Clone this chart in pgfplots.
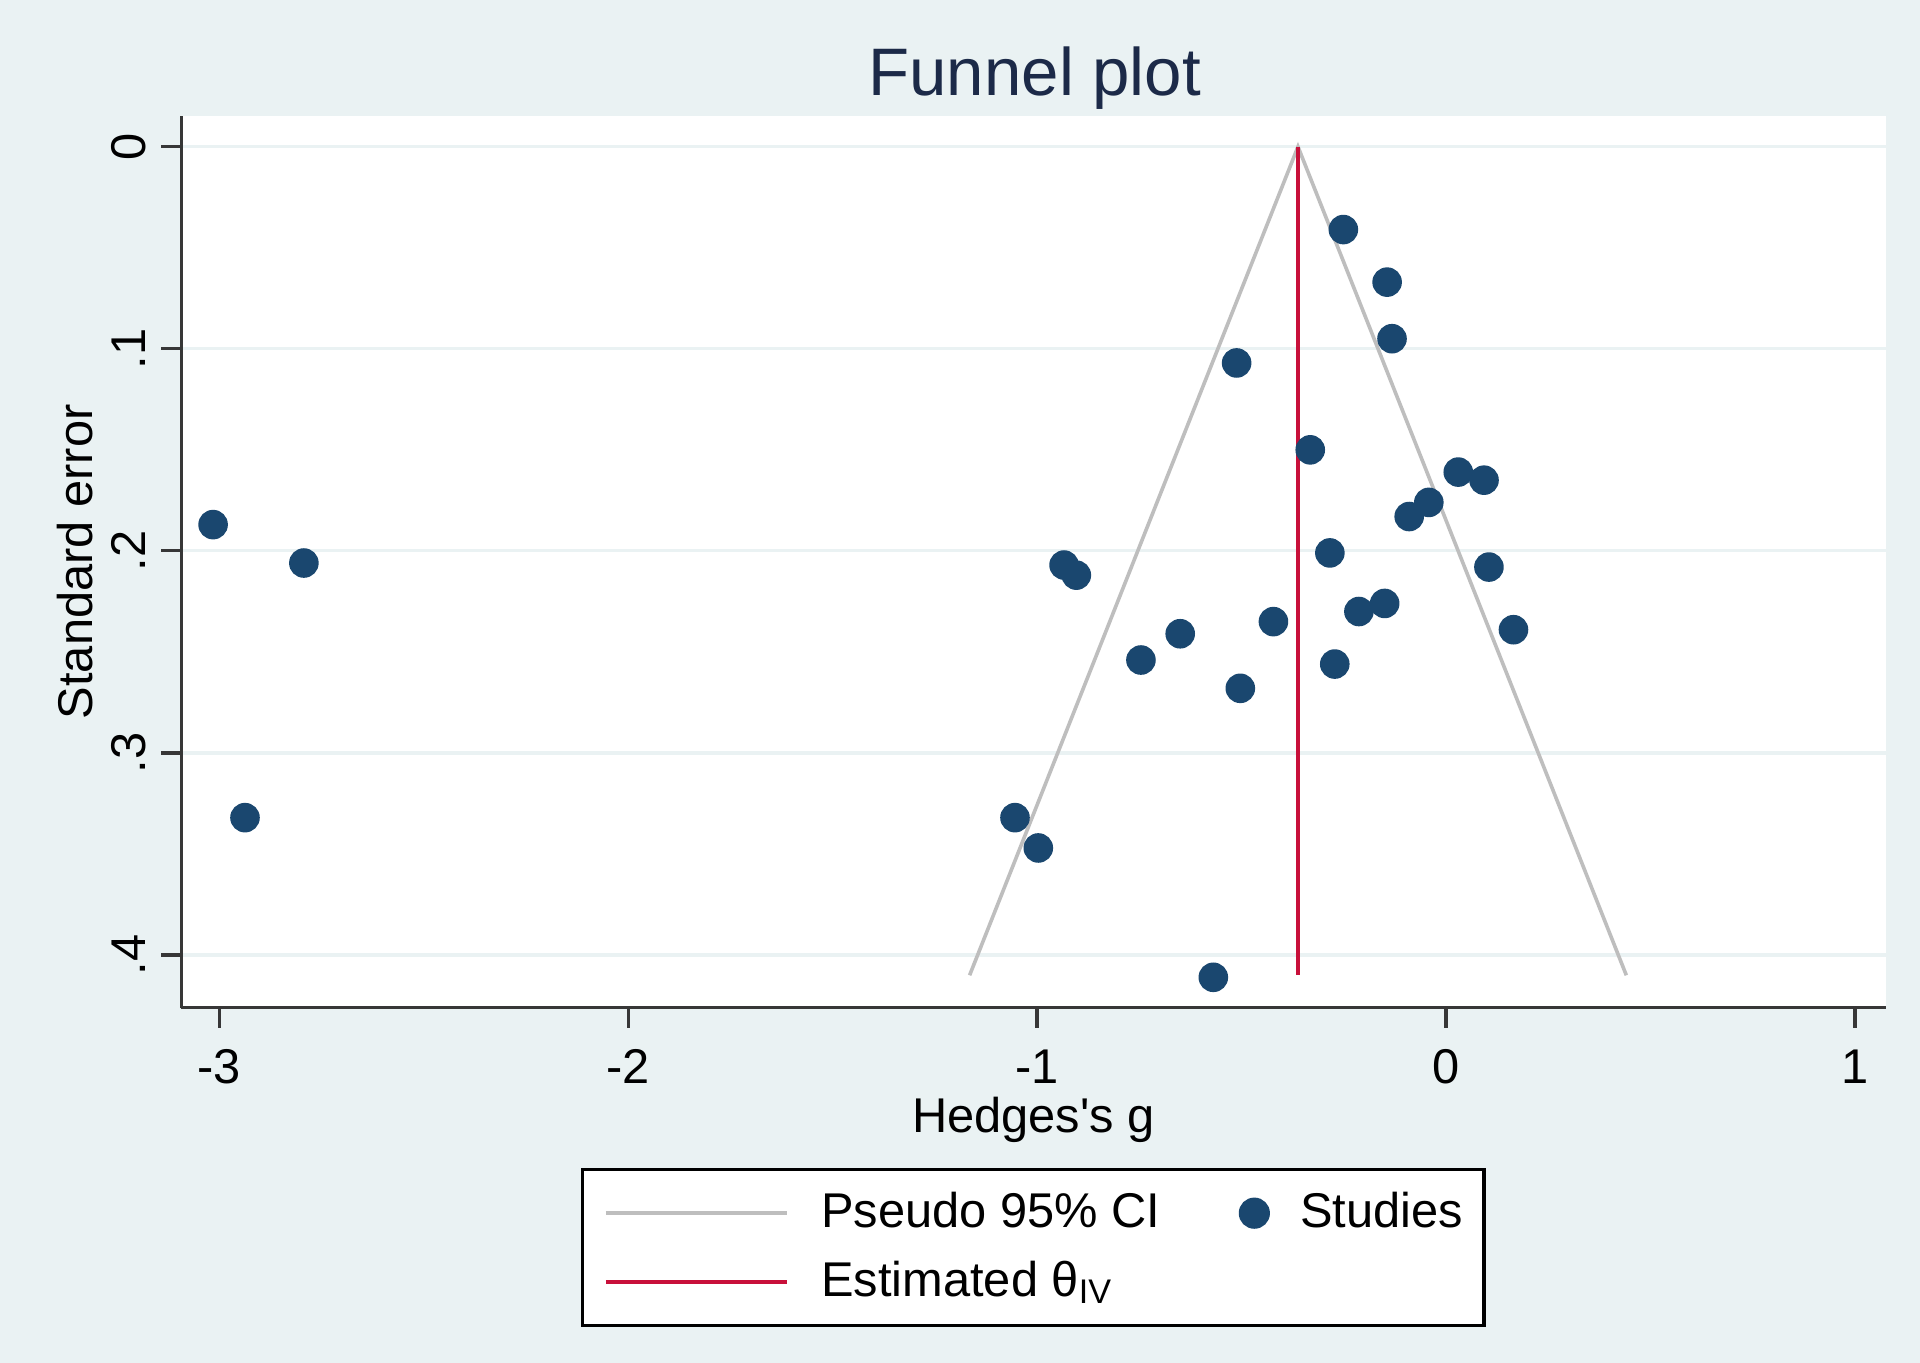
\documentclass[border=0pt]{standalone}
\usepackage{fontspec}
\setmainfont{Liberation Sans}[Ligatures=TeXOff]
\usepackage{pgfplots}
\pgfplotsset{compat=1.18}
\pgfplotsset{longleg/.style={legend image code/.code={\draw[##1] (0pt,0pt) -- (45.3pt,0pt);}}}
\definecolor{bg}{RGB}{234,242,243}
\definecolor{navy}{RGB}{26,71,111}
\definecolor{funnel}{RGB}{190,190,190}
\definecolor{estred}{RGB}{200,16,58}
\definecolor{titlecol}{RGB}{28,42,72}
\definecolor{axcol}{RGB}{55,55,55}
\pgfplotstableread{
x y
-3.015 0.187
-2.793 0.206
-2.937 0.332
-0.251 0.041
-0.144 0.067
-0.132 0.095
-0.512 0.107
-0.332 0.150
0.030 0.161
0.093 0.165
-0.042 0.176
-0.090 0.183
-0.284 0.201
-0.934 0.207
-0.904 0.212
0.105 0.208
-0.150 0.226
-0.213 0.230
-0.422 0.235
0.165 0.239
-0.650 0.241
-0.746 0.254
-0.272 0.256
-0.503 0.268
-1.054 0.332
-0.997 0.347
-0.569 0.411
}\studies
\pgfplotstableread{
x y
-1.165 0.410
-0.362 0.000
0.441 0.410
}\funneltab
\pgfplotstableread{
x y
-0.362 0.000
-0.362 0.410
}\esttab
\begin{document}
\begin{tikzpicture}[x=1pt,y=1pt]
\fill[bg] (0,0) rectangle (480,340.7);
\node[anchor=base, font=\fontsize{16.8}{20}\selectfont, text=titlecol, inner sep=0pt] at (258.7,316.8) {Funnel plot};
\begin{axis}[
  at={(45.3pt,88.8pt)}, anchor=south west,
  scale only axis, width=426.1pt, height=222.9pt,
  xmin=-3.093, xmax=1.075, ymin=-0.0152, ymax=0.426,
  y dir=reverse,
  axis x line*=bottom, axis y line*=left,
  axis line style={axcol, line width=0.8pt, -},
  axis background/.style={fill=white},
  xtick={-3,-2,-1,0,1}, xticklabels={-3,-2,-1,0,1},
  ytick={0,0.1,0.2,0.3,0.4}, yticklabels={0,.1,.2,.3,.4},
  tick align=outside, major tick length=5pt,
  tick style={axcol, line width=0.8pt},
  ymajorgrids, grid style={bg, line width=0.8pt},
  ticklabel style={font=\fontsize{12.2}{14}\selectfont, text=black},
  xticklabel style={anchor=base, inner sep=0pt},
  xticklabel shift=14pt,
  yticklabel style={rotate=90, anchor=base, inner sep=0pt},
  yticklabel shift=4pt,
  xlabel={Hedges's g},
  xlabel style={at={(axis description cs:0.5,-0.14)}, anchor=base, inner sep=0pt, font=\fontsize{12.2}{14}\selectfont},
  ylabel={Standard error},
  ylabel style={at={(axis description cs:-0.0523,0.5)}, anchor=base, inner sep=0pt, font=\fontsize{12.2}{14}\selectfont},
  legend style={at={(0.5,-0.269)}, anchor=center, draw=black, line width=0.8pt, fill=white,
    font=\fontsize{12.2}{14}\selectfont, inner xsep=5.2pt, inner ysep=5.8pt, row sep=6.8pt,
    nodes={inner sep=0pt},
    /tikz/every odd column/.style={column sep=8pt},
    /tikz/every even column/.style={column sep=20pt}},
  legend columns=2, legend cell align=left,
]
\addplot[funnel, line width=0.9pt, forget plot] table {\funneltab};
\addplot[estred, line width=1.1pt, forget plot] table {\esttab};
\addplot[only marks, mark=*, mark size=3.5pt, navy, mark options={draw=navy, fill=navy}, forget plot] table {\studies};
\addlegendimage{funnel, line width=1.1pt, longleg}
\addlegendentry{Pseudo 95\% CI}
\addlegendimage{only marks, mark=*, mark size=3.5pt, navy, mark options={draw=navy, fill=navy}}
\addlegendentry{Studies}
\addlegendimage{estred, line width=1.1pt, longleg}
\addlegendentry{Estimated θ\textsubscript{IV}}
\end{axis}
\end{tikzpicture}
\end{document}
